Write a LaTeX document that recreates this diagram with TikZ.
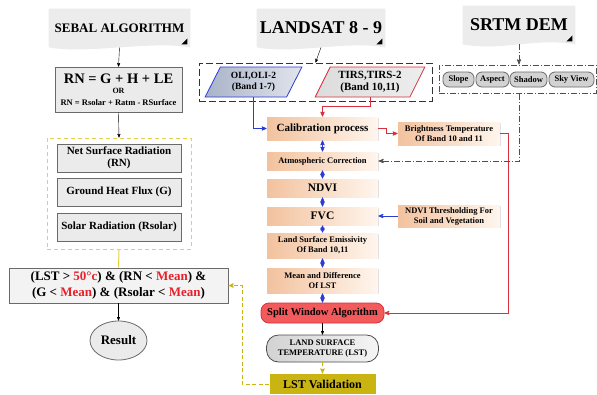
\documentclass[tikz,border=0pt]{standalone}
\usepackage{fontspec}
\setmainfont{Liberation Serif}
\usepackage{tikz}
\usetikzlibrary{arrows,shapes.geometric,backgrounds,shadows}

\definecolor{bannergray}{HTML}{ECECEC}
\definecolor{boxgray}{HTML}{EBEBEB}
\definecolor{boxline}{HTML}{6A6A6A}
\definecolor{peach}{HTML}{F2C29E}
\definecolor{peachlight}{HTML}{FFF6EE}
\definecolor{oligray}{HTML}{A9B3C8}
\definecolor{tirsgray}{HTML}{DCDCDC}
\definecolor{blueline}{HTML}{2B3CD6}
\definecolor{redline}{HTML}{D8303C}
\definecolor{hotred}{HTML}{E8202A}
\definecolor{splitred}{HTML}{F25A5C}
\definecolor{yline}{HTML}{E2D24C}
\definecolor{olive}{HTML}{C9B412}
\definecolor{dashgray}{HTML}{505050}

\begin{document}
\begin{tikzpicture}[x=1pt,y=-1pt,>=stealth',thick,
    banner/.style={inner sep=0pt,minimum height=38pt,font=\bfseries\fontsize{18}{20}\selectfont},
    gray box/.style={draw=boxline,fill=boxgray,line width=0.8pt,align=center,inner sep=2pt,
                     font=\bfseries\fontsize{11}{12.5}\selectfont},
    step box/.style={left color=peach,right color=peachlight,align=center,inner sep=2pt,
                     minimum width=111pt,font=\bfseries\fontsize{8.5}{10}\selectfont,
                     drop shadow={shadow xshift=0.8pt,shadow yshift=-0.8pt,opacity=0.25}},
    sat box/.style={trapezium,trapezium left angle=63,trapezium right angle=117,
                    trapezium stretches=true,minimum height=30pt,align=center,inner sep=1pt,
                    line width=0.8pt},
    pill/.style={draw=boxline,fill=gray!35,rounded corners=6pt,minimum height=15pt,inner sep=1pt,
                 line width=0.8pt,font=\bfseries\fontsize{8.5}{9}\selectfont},
    blue link/.style={<->,blueline,line width=0.8pt},
    red link/.style={->,redline,line width=0.8pt},
    dem link/.style={->,dashgray,line width=0.9pt,dash pattern=on 6pt off 2pt on 1pt off 2pt},
    val link/.style={olive,line width=0.9pt,dash pattern=on 4pt off 2.5pt}]
\useasboundingbox (0,0) rectangle (597,394);

% Headers
\node[banner,minimum width=141pt,font=\bfseries\fontsize{13}{15}\selectfont] (sebal) at (119.5,28) {SEBAL ALGORITHM};
\node[banner,minimum width=128pt] (landsat) at (321,28) {LANDSAT 8 - 9};
\node[banner,minimum width=112pt] (srtm) at (519,25) {SRTM DEM};

% SEBAL column
\node[gray box,minimum width=127pt,minimum height=45pt] (rn) at (118.5,89.5)
  {{\fontsize{14.5}{15}\selectfont RN = G + H + LE}\\[-2pt]
   {\fontsize{8}{9}\selectfont OR}\\[-1pt]
   {\fontsize{8.5}{9}\selectfont RN = Rsolar + Ratm - RSurface}};
\node[draw=yline,dash pattern=on 4pt off 3pt,line width=1pt,minimum width=144pt,minimum height=111pt] (sebalgroup) at (119,193.5) {};
\node[gray box,minimum width=124pt,minimum height=28pt] (netrad) at (119,158) {Net Surface Radiation\\(RN)};
\node[gray box,minimum width=124pt,minimum height=28pt,below of=netrad,node distance=34pt] (groundflux) {Ground Heat Flux (G)};
\node[gray box,minimum width=124pt,minimum height=28pt,below of=groundflux,node distance=35pt] (solarrad) {Solar Radiation (Rsolar)};
\node[gray box,fill=boxgray!60,minimum width=219pt,minimum height=35pt,font=\bfseries\fontsize{13}{16}\selectfont] (cond) at (118.5,285.5)
  {(LST > \textcolor{hotred}{50°c}) \& (RN < \textcolor{hotred}{Mean}) \&\\
   (G < \textcolor{hotred}{Mean}) \& (Rsolar < \textcolor{hotred}{Mean})};
\node[ellipse,draw=boxline,fill=boxgray,line width=0.8pt,minimum width=57pt,minimum height=39pt,inner sep=0pt,
      font=\bfseries\fontsize{13}{15}\selectfont] (result) at (118.5,340.5) {Result};

% LANDSAT column
\node[draw=black!80,dash pattern=on 7pt off 3pt,line width=1pt,minimum width=233pt,minimum height=38pt] (satgroup) at (315.5,82) {};
\node[sat box,draw=blueline,left color=oligray,right color=oligray!35,minimum width=97pt,
      font=\bfseries\fontsize{9.5}{11}\selectfont] (oli) at (253.5,82) {OLI,OLI-2\\(Band 1-7)};
\node[sat box,draw=redline,left color=tirsgray,right color=tirsgray!50,minimum width=110pt,
      font=\bfseries\fontsize{11}{12.5}\selectfont] (tirs) at (370,82) {TIRS,TIRS-2\\(Band 10,11)};
\node[step box,minimum height=23pt,font=\bfseries\fontsize{11}{12}\selectfont] (calib) at (322.5,128.5) {Calibration process};
\node[step box,minimum height=18pt,below of=calib,node distance=32.5pt] (atmo) {Atmospheric Correction};
\node[step box,minimum height=18pt,font=\bfseries\fontsize{11.5}{12}\selectfont,below of=atmo,node distance=27pt] (ndvi) {NDVI};
\node[step box,minimum height=18pt,font=\bfseries\fontsize{11.5}{12}\selectfont,below of=ndvi,node distance=28pt] (fvc) {FVC};
\node[step box,minimum height=25pt,below of=fvc,node distance=29.5pt] (lse) {Land Surface Emissivity\\Of Band 10,11};
\node[step box,minimum height=25pt,below of=lse,node distance=35pt] (meanlst) {Mean and Difference\\Of LST};
\node[draw=redline,fill=splitred,rounded corners=8pt,minimum width=123pt,minimum height=20pt,inner sep=1pt,
      font=\bfseries\fontsize{10.5}{12}\selectfont,below of=meanlst,node distance=32.5pt] (split) {Split Window Algorithm};
\node[draw=black!70,left color=gray!35,right color=gray!8,rounded corners=12pt,minimum width=112pt,minimum height=27pt,
      align=center,inner sep=1pt,font=\bfseries\fontsize{8.5}{10}\selectfont,below of=split,node distance=35.5pt] (lst)
  {LAND SURFACE\\TEMPERATURE (LST)};
\node[fill=olive,minimum width=106pt,minimum height=20pt,font=\bfseries\fontsize{12}{13}\selectfont,
      below of=lst,node distance=35.5pt] (valid) {LST Validation};

% side boxes
\node[step box,minimum width=102pt,minimum height=23pt] (bright) at (449,133.5) {Brightness Temperature\\Of Band 10 and 11};
\node[step box,minimum width=102pt,minimum height=22pt] (thresh) at (449,216) {NDVI Thresholding For\\Soil and Vegetation};

% SRTM column
\node[draw=dashgray,dash pattern=on 6pt off 2pt on 1pt off 2pt,line width=1pt,minimum width=157pt,minimum height=28pt] (demgroup) at (517.5,79) {};
\node[pill,minimum width=31pt] (slope) at (458.5,79.5) {Slope};
\node[pill,minimum width=33pt] (aspect) at (492.5,79.5) {Aspect};
\node[pill,minimum width=37pt] (shadow) at (528.5,79.5) {Shadow};
\node[pill,minimum width=45pt] (skyview) at (571.5,79.5) {Sky View};

% banner shapes
\begin{pgfonlayer}{background}
  \foreach \b in {sebal,landsat,srtm}{
    \fill[bannergray] (\b.south west) -- (\b.north west) -- (\b.north east) -- (\b.south east)
      .. controls +(-40,-7) and +(40,7) .. (\b.south west);
    \fill (\b.south east) ++(-3,-3) -- ++(0,-6) -- ++(-6,6) -- cycle;
  }
\end{pgfonlayer}

% Connectors
\draw[->] (sebal.south) -- (rn.north);
\draw[->] (rn.south) -- (sebalgroup.north);
\draw[yline,line width=1pt] (sebalgroup.south) -- (cond.north);
\draw[->] (cond.south) -- (result.north);

\draw[->] (landsat.south) -- (satgroup.north);
\draw[->,blueline,line width=0.8pt] (oli.south) |- (calib.west);
\draw[red link] (tirs.south) -- ++(0,9) -| (calib.north);
\draw[blue link] (calib) -- (atmo);
\draw[blue link] (atmo) -- (ndvi);
\draw[blue link] (ndvi) -- (fvc);
\draw[blue link] (fvc) -- (lse);
\draw[blue link] (lse) -- (meanlst);
\draw[blue link] (meanlst) -- (split);
\draw[->] (split) -- (lst);
\draw[->,val link] (lst) -- (valid);
\draw[->,val link] (valid.west) -- ++(-27,0) |- (cond.east);

\draw[red link] (calib.east) -- ++(8,0) |- (bright.west);
\draw[red link] (bright.east) -- ++(8,0) |- (split.east);
\draw[<-,blueline,line width=0.8pt] (fvc) -- (thresh);

\draw[dem link] (srtm.south) -- (srtm.south |- demgroup.north);
\draw[dem link] (srtm.south |- demgroup.south) |- (atmo.east);
\end{tikzpicture}
\end{document}
